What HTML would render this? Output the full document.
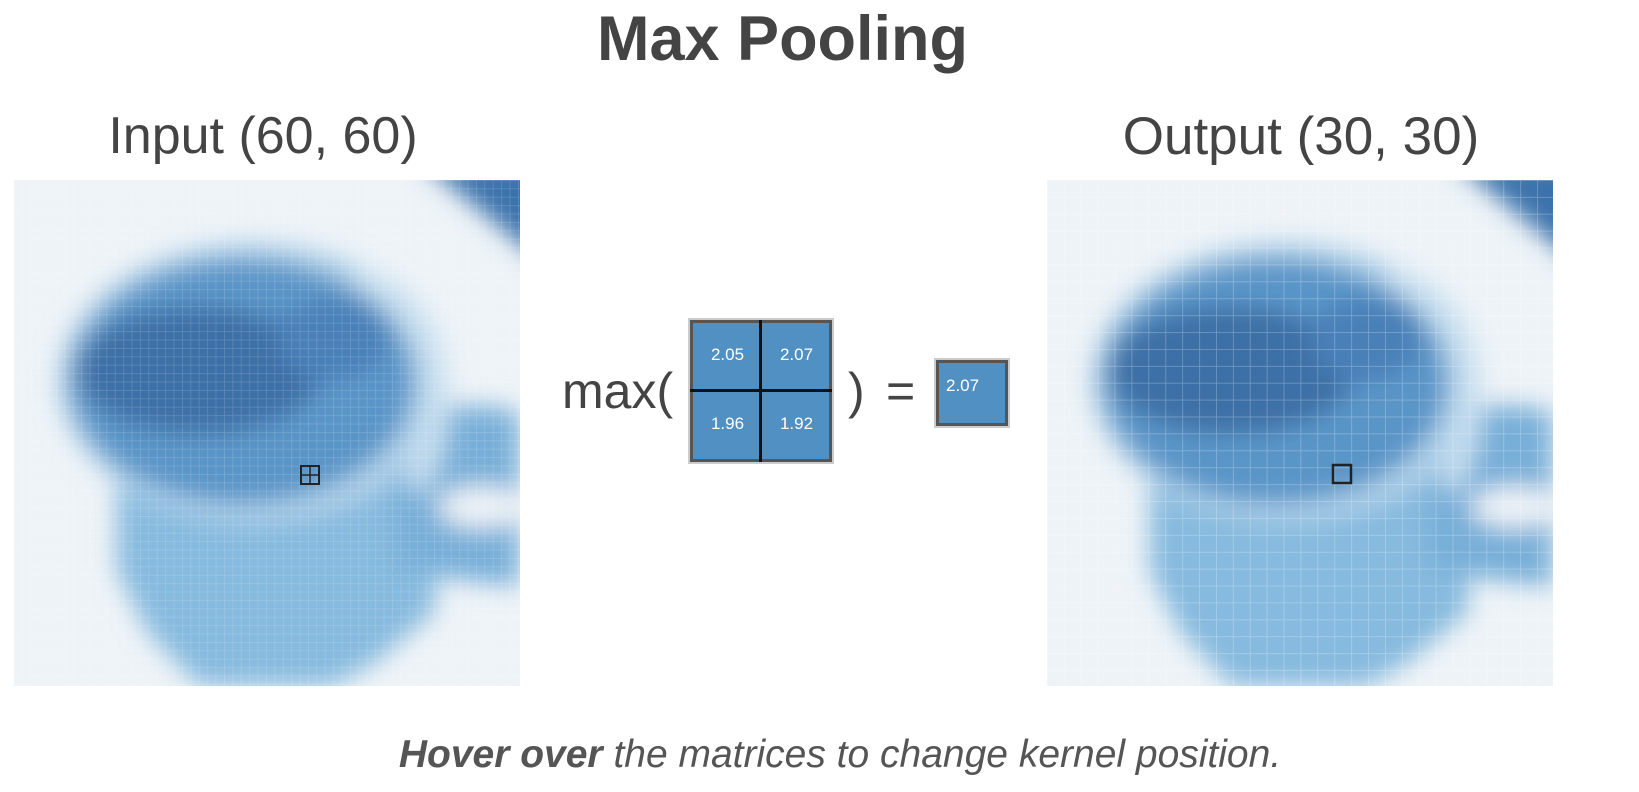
<!DOCTYPE html>
<html><head><meta charset="utf-8"><style>
html,body{margin:0;padding:0;background:#fff;}
body{width:1639px;height:792px;position:relative;overflow:hidden;font-family:"Liberation Sans",sans-serif;color:#444;}
.t{position:absolute;white-space:nowrap;}
.n{position:absolute;width:71px;text-align:center;font-size:17px;color:#fff;}
</style></head><body>
<svg width="0" height="0" style="position:absolute">
<defs>
<filter id="bl" x="-20%" y="-20%" width="140%" height="140%"><feGaussianBlur stdDeviation="12"/></filter>
<pattern id="g8" width="8.4" height="8.4" patternUnits="userSpaceOnUse"><path d="M0 0H8.4M0 0V8.4" stroke="#fff" stroke-opacity="0.18" stroke-width="1.5"/></pattern>
<pattern id="g16" width="16.9" height="16.9" patternUnits="userSpaceOnUse"><path d="M0 0H16.9M0 0V16.9" stroke="#fff" stroke-opacity="0.3" stroke-width="1.5"/></pattern>
<g id="cup">
<rect width="506" height="506" fill="#eef3f7"/>
<g filter="url(#bl)" transform="scale(1.028)">
<path d="M100 290 L410 290 L410 420 L350 470 L310 492 L180 492 L130 440 L100 380 Z" fill="#86bade"/>
<path d="M370 225 C440 215 492 220 492 230 L492 395 C440 390 400 385 370 375 Z" fill="#78afd8"/>
<ellipse cx="455" cy="318" rx="42" ry="20" fill="#eef3f7"/>
<ellipse cx="232" cy="196" rx="190" ry="136" fill="#b3d3ea"/>
<path d="M330 95 C420 110 430 230 390 300" stroke="#c9e0f0" stroke-width="22" fill="none"/>
<ellipse cx="222" cy="196" rx="168" ry="120" fill="#5a95c8"/>
<ellipse cx="180" cy="185" rx="120" ry="62" fill="#3d70a6"/>
<ellipse cx="310" cy="155" rx="55" ry="40" fill="#4880b8"/>
<path d="M395 -20 L520 -20 L520 85 Z" fill="#3a72ab"/>
</g>
</g>
</defs>
</svg>
<div class="t" style="left:-37px;width:1639px;text-align:center;top:3px;font-size:63px;font-weight:bold;color:#444;">Max Pooling</div>
<div class="t" style="left:63px;width:400px;text-align:center;top:106px;font-size:52px;">Input (60, 60)</div>
<div class="t" style="left:1091px;width:420px;text-align:center;top:106px;font-size:53px;">Output (30, 30)</div>

<svg style="position:absolute;left:14px;top:180px" width="506" height="506">
<use href="#cup"/><rect width="506" height="506" fill="url(#g8)"/>
<rect x="287" y="286" width="18" height="18" fill="none" stroke="#222" stroke-width="2"/>
<path d="M296 286V304M287 295H305" stroke="#222" stroke-width="1.5"/>
</svg>
<svg style="position:absolute;left:1047px;top:180px" width="506" height="506">
<use href="#cup"/><rect width="506" height="506" fill="url(#g16)"/>
<rect x="286" y="285" width="18" height="18" fill="none" stroke="#222" stroke-width="2.5"/>
</svg>

<div class="t" style="left:562px;top:362px;font-size:50px;">max(</div>
<div style="position:absolute;left:690px;top:320px;width:142px;height:142px;background:#5090c3;border:3px solid #555;box-sizing:border-box;box-shadow:0 0 0 2px #ccc;"></div>
<div style="position:absolute;left:759px;top:320px;width:3px;height:142px;background:#111;"></div>
<div style="position:absolute;left:690px;top:389px;width:142px;height:3px;background:#111;"></div>
<div class="n" style="left:692px;top:345px;">2.05</div>
<div class="n" style="left:761px;top:345px;">2.07</div>
<div class="n" style="left:692px;top:414px;">1.96</div>
<div class="n" style="left:761px;top:414px;">1.92</div>
<div class="t" style="left:848px;top:362px;font-size:50px;">)</div>
<div class="t" style="left:886px;top:362px;font-size:50px;">=</div>
<div style="position:absolute;left:936px;top:360px;width:72px;height:66px;background:#5090c3;border:3px solid #555;box-sizing:border-box;box-shadow:0 0 0 2px #ccc;"></div>
<div class="t" style="left:946px;top:376px;font-size:17px;color:#fff;">2.07</div>

<div class="t" style="left:0;width:1680px;text-align:center;top:733px;font-size:39px;font-style:italic;color:#555;"><b>Hover over</b> the matrices to change kernel position.</div>
</body></html>
